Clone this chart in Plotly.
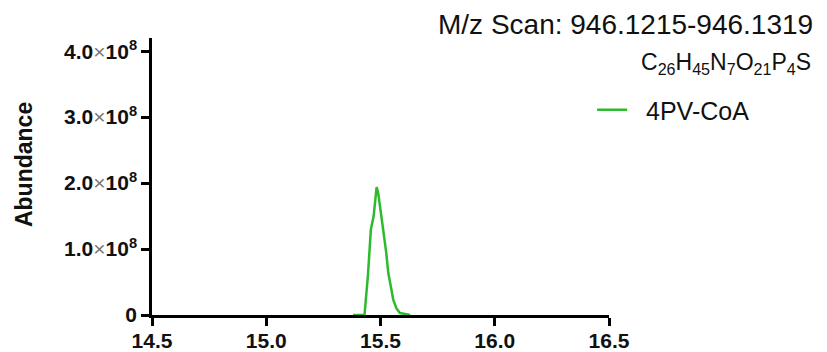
import plotly.graph_objects as go

# Data
time_min = [15.38, 15.43, 15.445, 15.458, 15.47, 15.483, 15.49, 15.50, 15.512,
            15.525, 15.534, 15.545, 15.556, 15.57, 15.585, 15.63]
abundance_e8 = [0.0, 0.0, 0.6, 1.3, 1.5, 1.94, 1.85, 1.6, 1.34,
                0.95, 0.64, 0.4, 0.23, 0.1, 0.03, 0.0]
abundance = [v * 1e8 for v in abundance_e8]

x_ticks = [14.5, 15.0, 15.5, 16.0, 16.5]
x_tick_labels = ["14.5", "15.0", "15.5", "16.0", "16.5"]
y_ticks = [0, 1e8, 2e8, 3e8, 4e8]
y_mantissa = ["1.0", "2.0", "3.0", "4.0"]
y_tick_labels = ["<b>0</b>"] + [
    f"<b>{m}</b><span style='color:#777;font-weight:normal'>×</span><b>10<sup>8</sup></b>"
    for m in y_mantissa
]

series_name = "4PV-CoA"
y_title = "Abundance"
title_text = "M/z Scan: 946.1215-946.1319"
formula_text = "C<sub>26</sub>H<sub>45</sub>N<sub>7</sub>O<sub>21</sub>P<sub>4</sub>S"

FONT = "Arial, Liberation Sans, sans-serif"

fig = go.Figure()
fig.add_trace(go.Scatter(
    x=time_min, y=abundance, mode="lines", name="&nbsp;&nbsp;" + series_name,
    line=dict(color="#2dbb2d", width=2.5),
))

fig.update_layout(
    width=827, height=352,
    margin=dict(l=152, r=218, t=38, b=37, autoexpand=False),
    paper_bgcolor="white", plot_bgcolor="white",
    font=dict(family=FONT, color="#111"),
    showlegend=True,
    legend=dict(xref="container", yref="container", x=0.716, y=0.6875,
                xanchor="left", yanchor="middle",
                font=dict(size=25, color="#111"), bgcolor="rgba(0,0,0,0)",
                itemwidth=30),
    xaxis=dict(range=[14.5, 16.5], tickvals=x_ticks,
               ticktext=[f"<b>{t}</b>" for t in x_tick_labels],
               showline=True, linecolor="black", linewidth=2.5,
               ticks="outside", ticklen=8, tickwidth=2.5, tickcolor="black",
               showgrid=False, zeroline=False, automargin=False,
               ticklabelstandoff=-3,
               tickfont=dict(size=21, color="#111")),
    yaxis=dict(range=[0, 4.2e8], tickvals=y_ticks, ticktext=y_tick_labels,
               showline=True, linecolor="black", linewidth=2.5,
               ticks="outside", ticklen=8, tickwidth=2.5, tickcolor="black",
               showgrid=False, zeroline=False, automargin=False,
               tickfont=dict(size=21, color="#111")),
    annotations=[
        dict(text=f"<b>{y_title}</b>", xref="paper", yref="paper", x=-0.280, y=0.5415,
             xanchor="center", yanchor="middle", textangle=-90, showarrow=False,
             font=dict(size=23, color="#111")),
        dict(text=title_text, xref="paper", yref="paper", x=1.4508, y=1.0505,
             xanchor="right", yanchor="middle", showarrow=False,
             font=dict(size=28, color="#111")),
        dict(text=formula_text, xref="paper", yref="paper", x=1.4464, y=0.9097,
             xanchor="right", yanchor="middle", showarrow=False,
             font=dict(size=23, color="#111")),
    ],
)

fig.write_html("out.html", config={"displayModeBar": False},
               post_script="document.body.style.margin='0';document.body.style.overflow='hidden';")
